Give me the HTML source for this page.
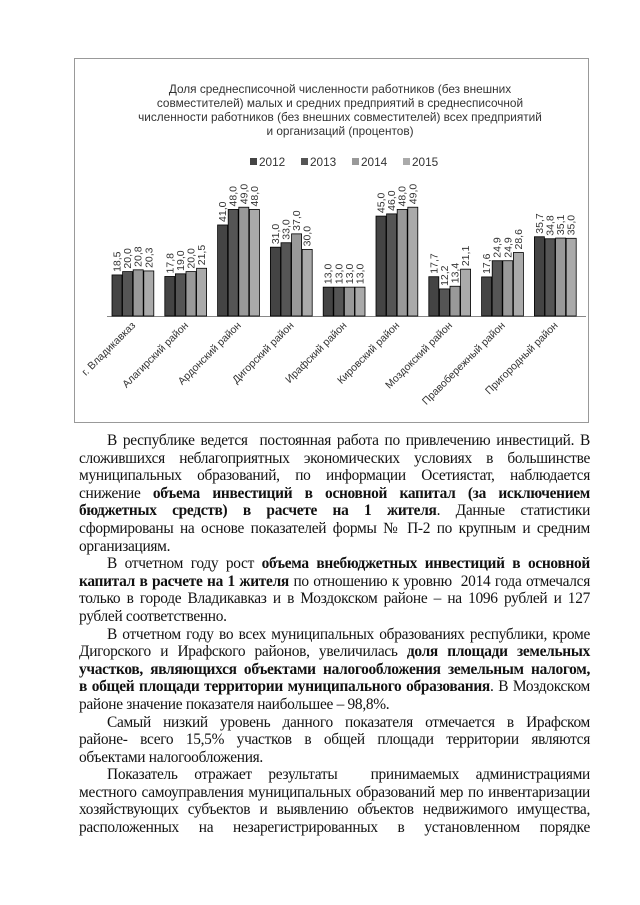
<!DOCTYPE html>
<html><head><meta charset="utf-8"><style>
html,body{margin:0;padding:0;background:#fff;}
body{width:640px;height:905px;position:relative;overflow:hidden;}
#txt{position:absolute;left:79px;top:432px;width:511px;font-family:"Liberation Serif","Times New Roman",serif;font-size:15.4px;line-height:17.6px;color:#111;letter-spacing:-0.3px;}
#txt div{height:17.6px;text-align:justify;text-align-last:justify;white-space:nowrap;}
#txt div.i{text-indent:28px;}
#txt div.l{text-align-last:left;}
</style></head><body>
<svg width="640" height="430" style="position:absolute;left:0;top:0" font-family="Liberation Sans, sans-serif">
<rect x="74.5" y="58.5" width="514" height="364" fill="#fff" stroke="#999"/>
<g font-size="11.8" fill="#333" text-anchor="middle">
<text x="340" y="93">Доля среднесписочной численности работников (без внешних</text>
<text x="340" y="107">совместителей) малых и средних предприятий в среднесписочной</text>
<text x="340" y="121">численности работников (без внешних совместителей) всех предприятий</text>
<text x="340" y="135">и организаций (процентов)</text>
</g>
<g font-size="11.8" fill="#333">
<rect x="250" y="158" width="7" height="7" fill="#444"/><text x="259" y="166">2012</text>
<rect x="301" y="158" width="7" height="7" fill="#555"/><text x="310" y="166">2013</text>
<rect x="352" y="158" width="7" height="7" fill="#999"/><text x="361" y="166">2014</text>
<rect x="403" y="158" width="7" height="7" fill="#aaa"/><text x="412" y="166">2015</text>
</g>
<line x1="107" y1="316.5" x2="586" y2="316.5" stroke="#888"/>
<g id="bars"></g>
</svg>
<script>
var d=[["г. Владикавказ",[18.5,20.0,20.8,20.3]],["Алагирский район",[17.8,19.0,20.0,21.5]],["Ардонский район",[41.0,48.0,49.0,48.0]],["Дигорский район",[31.0,33.0,37.0,30.0]],["Ирафский район",[13.0,13.0,13.0,13.0]],["Кировский район",[45.0,46.0,48.0,49.0]],["Моздокский район",[17.7,12.2,13.4,21.1]],["Правобережный район",[17.6,24.9,24.9,28.6]],["Пригородный район",[35.7,34.8,35.1,35.0]]];
var c=["#444","#555","#999","#aaa"],s="";
d.forEach(function(g,i){var x0=112+i*52.8;
g[1].forEach(function(v,j){var h=v*2.22,x=x0+j*10.6,y=316-h;
s+='<rect x="'+x+'" y="'+y+'" width="10" height="'+h+'" fill="'+c[j]+'" stroke="#000" stroke-width="0.8"/>';
s+='<text transform="translate('+(x+8.5)+','+(y-3)+') rotate(-90)" font-size="10.5" fill="#333">'+v.toFixed(1).replace(".",",")+'</text>';});
var cx=x0+24;
s+='<text transform="translate('+cx+',326) rotate(-45)" text-anchor="end" font-size="10.5" fill="#333">'+g[0]+'</text>';});
document.getElementById("bars").innerHTML=s;
</script>
<div id="txt">
<div class="i">В республике ведется&nbsp; постоянная работа по привлечению инвестиций. В</div>
<div>сложившихся неблагоприятных экономических условиях в большинстве</div>
<div>муниципальных образований, по информации Осетиястат, наблюдается</div>
<div>снижение <b>объема инвестиций в основной капитал (за исключением</b></div>
<div><b>бюджетных средств) в расчете на 1 жителя</b>. Данные статистики</div>
<div>сформированы на основе показателей формы № П-2 по крупным и средним</div>
<div class="l">организациям.</div>
<div class="i">В отчетном году рост <b>объема внебюджетных инвестиций в основной</b></div>
<div><b>капитал в расчете на 1 жителя</b> по отношению к уровню&nbsp; 2014 года отмечался</div>
<div>только в городе Владикавказ и в Моздокском районе – на 1096 рублей и 127</div>
<div class="l">рублей соответственно.</div>
<div class="i">В отчетном году во всех муниципальных образованиях республики, кроме</div>
<div>Дигорского и Ирафского районов, увеличилась <b>доля площади земельных</b></div>
<div><b>участков, являющихся объектами налогообложения земельным налогом,</b></div>
<div><b>в общей площади территории муниципального образования</b>. В Моздокском</div>
<div class="l">районе значение показателя наибольшее – 98,8%.</div>
<div class="i">Самый низкий уровень данного показателя отмечается в Ирафском</div>
<div>районе- всего 15,5% участков в общей площади территории являются</div>
<div class="l">объектами налогообложения.</div>
<div class="i">Показатель отражает результаты&nbsp; принимаемых администрациями</div>
<div>местного самоуправления муниципальных образований мер по инвентаризации</div>
<div>хозяйствующих субъектов и выявлению объектов недвижимого имущества,</div>
<div>расположенных на незарегистрированных в установленном порядке</div>
</div>
</body></html>
